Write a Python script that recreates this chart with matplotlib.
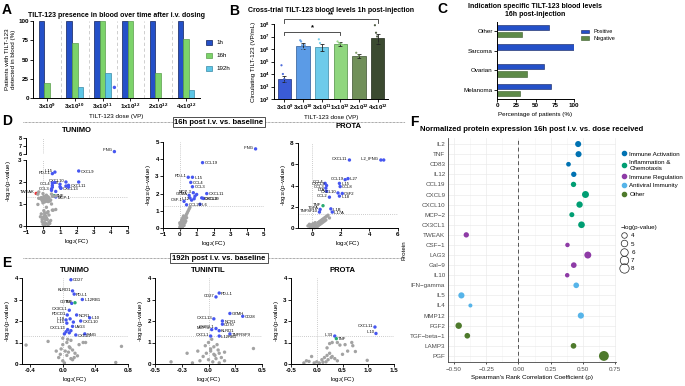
import numpy as np
import matplotlib.pyplot as plt
from matplotlib.patches import Patch
from matplotlib.lines import Line2D

plt.rcParams['font.family'] = ['Liberation Sans', 'DejaVu Sans']
plt.rcParams['mathtext.default'] = 'regular'
plt.rcParams['axes.linewidth'] = 0.7
plt.rcParams['xtick.major.width'] = 0.6
plt.rcParams['ytick.major.width'] = 0.6
plt.rcParams['xtick.major.size'] = 2
plt.rcParams['ytick.major.size'] = 2

# ---------------- data ----------------
doses = ['$3x10^{9}$', '$3x10^{10}$', '$3x10^{11}$', '$1x10^{12}$', '$2x10^{12}$', '$4x10^{12}$']

# A: % patients with virus in blood
a_1h = [100, 100, 100, 100, 100, 100]
a_16h = [20, 71, 100, 100, 33, 77]
a_192h = [0, 14, 33, 0, 0, 11]

# B: circulating virus 1h (VP/mL)
b_mean = [4e3, 1.8e6, 1.4e6, 2.5e6, 2.8e5, 7e6]
b_low = [2.2e3, 1.0e6, 7e5, 1.8e6, 2.0e5, 2.5e6]
b_high = [7e3, 3.0e6, 2.6e6, 3.5e6, 4.0e5, 1.5e7]
b_points = [[5e4, 1e4, 4e3, 2.5e3, 1.5e3],
            [5e6, 4e6, 2e6, 1e6, 3e5, 2e6, 5e5],
            [6e6, 3e6, 1e6, 3e5, 1e5, 1e6],
            [4e6, 3e6, 2.5e6, 2e6],
            [5e5, 3e5, 2e5],
            [8e7, 2e7, 1e7, 1e6, 3e6, 5e5]]

# C: indication specific 16h
c_cats = ['Melanoma', 'Ovarian', 'Sarcoma', 'Other']
c_pos = [70, 61, 100, 67]
c_neg = [30, 39, 0, 33]

# D: 16h volcano, TUNIMO
d1_lab = ['IFNG', 'CXCL9', 'PD-L1', 'IL15', 'CXCL10', 'IL10', 'CXCL11', 'CCL4', 'CXCL13', 'CCL3', 'MCP-1']
d1_x = [4.2, 2.1, 0.55, 0.7, 1.35, 1.0, 1.5, 0.55, 1.05, 0.5, 0.75]
d1_y = [6.3, 2.5, 2.38, 2.45, 2.0, 1.9, 1.85, 1.85, 1.72, 1.62, 1.32]
d1_green = ('TNF', 0.65, 1.38)
d1_red = ('TWEAK', -0.4, 1.48)
d1_gx = [-0.25, -0.3, 0.0, 0.5, 0.75, 0.55, 0.2, 0.1, -0.1, 0.3, 0.0, 0.05, 0.15, 0.25, 0.35, 0.45,
         -0.05, 0.1, 0.2, 0.3, 0.0, 0.15, 0.05, -0.15, 0.4, 0.25, 0.1, -0.05, 0.2, 0.35, 0.6, 0.1]
d1_gy = [1.26, 0.98, 1.05, 1.0, 0.75, 0.72, 0.85, 0.6, 0.55, 0.65, 0.4, 0.35, 0.45, 0.3, 0.5, 0.25,
         0.2, 0.15, 0.1, 0.05, 0.08, 0.28, 0.7, 0.42, 0.12, 0.6, 0.5, 0.3, 0.38, 0.18, 0.72, 0.02]

# D: 16h volcano, TUNINTIL
d2_lab = ['IFNG', 'CCL19', 'PD-L1', 'IL15', 'CCL4', 'CCL3', 'MCP-3', 'CXCL11', 'GZMA', 'CSF-1',
          'IL12', 'CXCL10', 'CXCL9', 'IL6', 'CCL23', '', '', '', '']
d2_x = [4.5, 1.35, 0.5, 0.75, 0.65, 0.75, 0.8, 1.6, 0.55, 0.25, 0.7, 1.3, 1.4, 1.2, 0.4, 0.9, 1.0, 0.6, 0.85]
d2_y = [4.6, 3.8, 2.95, 2.95, 2.65, 2.4, 2.05, 2.0, 1.9, 1.55, 1.62, 1.75, 1.72, 1.38, 1.35, 1.85, 1.95, 1.75, 1.7]
d2_gx = [0.0, 0.05, 0.1, 0.1, 0.15, 0.2, 0.2, 0.25, 0.3, 0.3, 0.35, 0.4, 0.45, 0.5, 0.55, 0.6,
         0.05, 0.15, 0.25, 0.35, 0.0, 0.1, 0.2, 0.3, 0.4, 0.02, 0.12, 0.22, 0.08, 0.18]
d2_gy = [0.05, 0.15, 0.25, 0.1, 0.35, 0.45, 0.2, 0.55, 0.6, 0.3, 0.7, 0.8, 0.9, 1.0, 1.1, 1.2,
         0.0, 0.05, 0.15, 0.4, 0.3, 0.4, 0.3, 0.5, 0.6, 0.2, 0.5, 0.7, 0.1, 0.6]

# D: 16h volcano, PROTA
d3_lab = ['IL2_IFNG', '', 'CXCL11', 'CCL19', 'IL27', 'CCL4', 'CXCL9', 'IL15', 'CCL8', 'CCL3', 'LTA',
          'CXCL10', 'CSF2', 'CCL2', 'IL18', 'TGFA', 'IL1B', 'IL17A', 'TNFSF10']
d3_x = [4.8, 5.0, 2.6, 2.3, 2.5, 0.9, 1.0, 1.9, 1.95, 0.95, 1.0, 1.8, 2.1, 1.2, 1.9, 0.55, 1.3, 1.4, 0.5]
d3_y = [6.4, 6.4, 6.4, 4.55, 4.65, 4.2, 4.0, 4.2, 3.9, 3.75, 3.45, 3.3, 3.25, 2.9, 3.0, 1.75, 1.8, 1.5, 1.5]
d3_green = ('TNF', 0.75, 2.1)
d3_gx = [-0.3, -0.2, -0.1, 0.0, 0.1, 0.2, 0.3, -0.15, 0.05, 0.25, 0.4, 0.5, 0.6, 0.7, 0.8, 0.9, 1.0,
         1.1, 0.45, 0.65, 0.85, 0.15, 0.35, 0.55, 0.75, 0.95, -0.05, 0.2, 1.2]
d3_gy = [0.2, 0.35, 0.15, 0.05, 0.25, 0.1, 0.2, 0.05, 0.4, 0.3, 0.5, 0.6, 0.7, 0.8, 0.9, 1.0, 1.1,
         1.2, 0.25, 0.45, 0.65, 0.02, 0.12, 0.35, 0.55, 0.75, 0.3, 0.5, 0.95]

# E: 192h volcano, TUNIMO
e1_lab = ['CD27', 'KLRD1', 'PD-L1', 'IL12RB1', 'CD70', 'CX3CL1', 'PDCD1', 'NCR1', 'IL10', 'IL18',
          'CXCL10', 'IL15', 'LAG3', 'CXCL13', 'IFNG', 'CXCL9', '', '', '', '', '', '']
e1_x = [0.1, 0.12, 0.14, 0.24, 0.11, 0.08, 0.055, 0.17, 0.33, 0.04, 0.22, 0.05, 0.12, 0.06, 0.27, 0.16,
        0.04, 0.08, 0.1, 0.02, 0.09, 0.13]
e1_y = [3.92, 3.4, 3.25, 3.0, 2.82, 2.5, 2.28, 2.28, 2.15, 2.05, 2.0, 1.9, 1.75, 1.6, 1.4, 1.35,
        1.5, 1.45, 1.55, 1.4, 2.1, 1.95]
e1_green = ('TNF', 0.15, 2.85)
e1_gx = [-0.45, -0.18, 0.72, 0.65, 0.28, 0.25, 0.18, 0.1, 0.05, 0.0, -0.02, 0.03, 0.08, 0.12, 0.15,
         0.2, -0.05, 0.0, 0.05, 0.1, 0.02, 0.07, -0.03, 0.12, 0.06, 0.0, 0.09, -0.08, 0.14]
e1_gy = [0.88, 1.05, 0.82, 0.07, 1.0, 1.0, 0.38, 1.1, 1.0, 0.9, 0.7, 0.6, 0.8, 0.65, 0.5,
         0.9, 0.3, 0.15, 0.4, 0.25, 0.05, 0.55, 0.45, 0.2, 1.15, 1.2, 0.75, 0.6, 0.3]

# E: 192h volcano, TUNINTIL
e2_lab = ['PD-L1', 'CD27', 'GZMH', 'CD28', 'CXCL13', 'NCR1', 'CD70', 'CX3CL1', 'MCP-3', 'KLRD1',
          'CXCL1', 'IL12RB1', 'TNFRSF9']
e2_x = [0.10, 0.07, 0.20, 0.32, 0.05, 0.13, 0.13, 0.07, 0.03, 0.10, 0.02, 0.10, 0.20]
e2_y = [3.3, 3.12, 2.35, 2.22, 2.1, 2.0, 1.85, 1.65, 1.6, 1.55, 1.3, 1.3, 1.4]
e2_gx = [-0.35, -0.2, -0.1, -0.15, 0.42, 0.15, 0.0, 0.03, 0.05, 0.08, -0.02, 0.02, 0.06, 0.1, 0.12,
         -0.05, 0.0, 0.04, 0.07, 0.1, -0.08, 0.15, 0.02, 0.05, 0.09, -0.03]
e2_gy = [0.1, 0.5, 0.6, 0.05, 0.72, 0.55, 1.0, 1.15, 0.8, 0.9, 0.5, 0.6, 0.4, 0.5, 0.3,
         0.35, 0.2, 0.1, 0.25, 0.05, 0.15, 0.15, 0.7, 0.45, 0.65, 0.85]

# E: 192h volcano, PROTA
e3_lab = ['CXCL11', 'IL10', 'IL33']
e3_x = [1.13, 1.15, 0.35]
e3_y = [1.72, 1.42, 1.3]
e3_green = ('TNF', 0.38, 1.18)
e3_gx = [0.98, 0.75, 0.7, 0.68, 0.55, 0.45, 0.4, 0.3, 0.25, 0.2, -0.2, -0.1, 0.0, -0.25, -0.05,
         0.1, 0.15, 0.2, 0.25, 0.3, 0.35, 0.4, 0.18, 0.22, 0.28, 0.05, 0.12, -0.15, 0.5, 0.6]
e3_gy = [0.17, 0.58, 0.85, 1.0, 0.9, 0.88, 1.0, 1.0, 0.95, 0.75, 0.15, 0.35, 0.1, 0.05, 0.05,
         0.2, 0.3, 0.4, 0.5, 0.35, 0.25, 0.15, 0.1, 0.2, 0.3, 0.05, 0.08, 0.12, 0.45, 0.6]

# F: correlation with dose
f_prot = ['IL2', 'TNF', 'CD83', 'IL12', 'CCL19', 'CXCL9', 'CXCL10', 'MCP\u22122', 'CX3CL1', 'TWEAK',
          'CSF\u22121', 'LAG3', 'Gal\u22129', 'IL10', 'IFN\u2212gamma', 'IL5', 'IL4', 'MMP12', 'FGF2',
          'TGF\u2212beta\u22121', 'LAMP3', 'PGF']
f_rho = [0.464, 0.467, 0.389, 0.43, 0.428, 0.521, 0.475, 0.415, 0.49, -0.405,
         0.381, 0.539, 0.43, 0.379, 0.449, -0.443, -0.373, 0.485, -0.464, -0.397, 0.428, 0.664]
f_logp = [4.5, 4.5, 3.2, 3.8, 3.8, 5.4, 4.8, 3.5, 5.1, 3.8,
          3.0, 5.4, 4.1, 3.0, 4.1, 4.6, 2.6, 4.6, 4.9, 4.1, 4.1, 8.6]
f_group = ['Immune Activation'] * 4 + ['Inflammation & Chemotaxis'] * 5 + ['Immune Regulation'] * 5 + \
          ['Antiviral Immunity'] * 4 + ['Other'] * 4
f_groups = ['Immune Activation', 'Inflammation & Chemotaxis', 'Immune Regulation', 'Antiviral Immunity', 'Other']
f_group_labels = ['Immune Activation', 'Inflammation &\nChemotaxis', 'Immune Regulation', 'Antiviral Immunity', 'Other']
f_colors = ['#0072B2', '#009E73', '#8E3BA6', '#56B4E9', '#4E7A2C']
f_size_levels = [4, 5, 6, 7, 8]

# ---------------- figure ----------------
W, H = 685, 386
fig = plt.figure(figsize=(6.85, 3.86), dpi=100)


def px_axes(x0, y0, x1, y1):
    return fig.add_axes([x0 / W, 1 - y1 / H, (x1 - x0) / W, (y1 - y0) / H])


def prism(ax, fs=4.5):
    ax.spines['top'].set_visible(False)
    ax.spines['right'].set_visible(False)
    ax.tick_params(labelsize=fs, pad=1)
    for t in ax.get_xticklabels() + ax.get_yticklabels():
        t.set_fontweight('bold')


def ftext(x, y, s, **kw):
    fig.text(x / W, 1 - y / H, s, **kw)


# panel letters
for lab, x, y in [('A', 2, 10), ('B', 229, 11), ('C', 437, 9), ('D', 2, 121), ('E', 2, 263), ('F', 410, 122)]:
    ftext(x, y, lab, fontsize=10, fontweight='bold', va='center')

# ---- A
ax = px_axes(33, 21, 200, 98)
x = np.arange(len(doses))
w = 0.2
for i, (vals, c, ec, lab) in enumerate(zip([a_1h, a_16h, a_192h],
                                          ['#2450C8', '#7CD36A', '#5DC6E6'],
                                          ['#10205a', '#5a9e4c', '#3a8aa6'],
                                          ['1h', '16h', '192h'])):
    ax.bar(x + (i - 1) * w, vals, w, color=c, edgecolor=ec, lw=0.5, label=lab)
for xs in x[:-1] + 0.5:
    ax.axvline(xs, color='#c8c8c8', ls=(0, (4, 3)), lw=0.6)
ax.set_xlim(-0.5, 5.5)
ax.set_ylim(0, 100)
ax.set_yticks([0, 25, 50, 75, 100])
ax.set_xticks(x)
ax.set_xticklabels(doses)
prism(ax)
ax.set_ylabel('Patients with TILT-123\ndetected in blood (%)', fontsize=4.5, labelpad=2)
ax.set_xlabel('TILT-123 dose (VP)', fontsize=4.5, labelpad=2)
ax.set_title('TILT-123 presence in blood over time after i.v. dosing', fontsize=5, fontweight='bold', pad=3)
ax.legend(loc='center left', bbox_to_anchor=(1.0, 0.55), frameon=False, fontsize=4.5,
          handlelength=1.0, handleheight=0.8, labelspacing=1.2)

# ---- B
ax = px_axes(274, 24, 388, 99)
b_colors = ['#3A5BD6', '#5B9BE6', '#6ECBEA', '#8FD67E', '#71905A', '#3B4A30']
b_edges = ['#1d2f7a', '#2d5a96', '#3a8aa6', '#4f8e44', '#3f5232', '#1e2618']
for i in range(6):
    ax.bar(i, b_mean[i] - 1e2, 0.7, bottom=1e2, color=b_colors[i], edgecolor=b_edges[i], lw=0.5)
    ax.errorbar(i, b_mean[i], yerr=[[b_mean[i] - b_low[i]], [b_high[i] - b_mean[i]]],
                color='#222', lw=0.6, capsize=1.5, capthick=0.6)
    pts = b_points[i]
    jit = np.linspace(-0.15, 0.15, len(pts))
    ax.scatter(i + jit, pts, s=2.5, color=b_colors[i], edgecolor='none', zorder=3, alpha=0.9)
ax.set_yscale('log')
ax.set_ylim(1e2, 1e8)
ax.set_xlim(-0.55, 5.55)
ax.set_yticks([10.0 ** k for k in range(2, 9)])
ax.minorticks_off()
ax.set_xticks(range(6))
ax.set_xticklabels(doses)
prism(ax, 4.3)
ax.set_ylabel('Circulating TILT-123 (VP/mL)', fontsize=4.5, labelpad=2)
ax.set_xlabel('TILT-123 dose (VP)', fontsize=4.5, labelpad=2)
ax.set_title('Cross-trial TILT-123 blood levels 1h post-injection', fontsize=5, fontweight='bold', pad=9)
# significance brackets
for (i0, i1, ytop, ydrop, star) in [(0, 3, 2.5e7, 1.3e7, '*'), (0, 5, 2.5e8, 1.1e8, '**')]:
    ax.plot([i0, i0, i1, i1], [ydrop, ytop, ytop, ydrop], color='#333', lw=0.6, clip_on=False)
    ax.text((i0 + i1) / 2, ytop * 1.15, star, ha='center', va='bottom', fontsize=5.5,
            fontweight='bold', clip_on=False)

# ---- C
ax = px_axes(497, 22, 574, 99)
yc = np.arange(len(c_cats))
ax.barh(yc + 0.18, c_pos, 0.27, color='#2450C8', edgecolor='#10205a', lw=0.4, label='Positive')
ax.barh(yc - 0.18, c_neg, 0.27, color='#5E8A48', edgecolor='#3a5a2a', lw=0.4, label='Negative')
ax.set_ylim(-0.46, 3.46)
ax.set_xlim(0, 100)
ax.set_xticks([0, 25, 50, 75, 100])
ax.set_yticks(yc)
ax.set_yticklabels(c_cats)
prism(ax, 4.5)
for t in ax.get_yticklabels():
    t.set_fontweight('normal')
ax.set_xlabel('Percentage of patients (%)', fontsize=4.5, labelpad=3)
ax.set_title('Indication specific TILT-123 blood levels\n16h post-injection', fontsize=5,
             fontweight='bold', pad=4, linespacing=1.2)
ax.legend(loc='upper left', bbox_to_anchor=(1.02, 0.97), frameon=False, fontsize=4,
          handlelength=1.6, handleheight=0.6, labelspacing=0.3)

# ---- separators
for ysep, txt in [(122, '16h post i.v. vs. baseline'), (258, '192h post i.v. vs. baseline')]:
    fig.add_artist(Line2D([23 / W, 405 / W], [1 - ysep / H] * 2, color='#555', lw=0.5, ls=(0, (1, 1))))
    ftext(219, ysep, txt, fontsize=5.5, fontweight='bold', ha='center', va='center',
          bbox=dict(boxstyle='square,pad=0.25', fc='white', ec='#333', lw=0.6))

BLUE = '#4656F0'
GREEN = '#2BAA72'
RED = '#E8373A'
GRAY = '#A3A3A3'


def volcano(ax, gx, gy, bx, by, blab, right=(), extra=()):
    ax.scatter(gx, gy, s=6, color=GRAY, edgecolor='none', zorder=2, clip_on=False)
    ax.scatter(bx, by, s=6, color=BLUE, edgecolor='none', zorder=3, clip_on=False)
    for name, xx, yy, col in extra:
        ax.scatter([xx], [yy], s=6, color=col, edgecolor='none', zorder=4)
        blab = list(blab) + [name]
        bx = list(bx) + [xx]
        by = list(by) + [yy]
    for lab, xx, yy in zip(blab, bx, by):
        if not lab:
            continue
        if lab in right:
            ax.annotate(lab, (xx, yy), xytext=(1.3, -0.5), textcoords='offset points', fontsize=3.0,
                        ha='left', va='center', zorder=5)
        else:
            ax.annotate(lab, (xx, yy), xytext=(-1.3, 0.8), textcoords='offset points', fontsize=3.0,
                        ha='right', va='center', zorder=5)
    ax.axhline(1.3, color='#bbbbbb', ls=(0, (1, 1.5)), lw=0.6, zorder=1)
    ax.axvline(0, color='#bbbbbb', ls=(0, (1, 1.5)), lw=0.6, zorder=1)


def vol_labels(ax, title=None):
    if title:
        ax.set_title(title, fontsize=5.5, fontweight='bold', pad=4)
    ax.set_xlabel('log$_2$(FC)', fontsize=4.5, labelpad=1.5)
    ax.set_ylabel('-log$_{10}$(p-value)', fontsize=4.5, labelpad=1.5)


# ---- D TUNIMO (broken y axis)
axb = px_axes(26, 160, 128, 226)
axt = px_axes(26, 138, 128, 154)
for a in (axb, axt):
    volcano(a, d1_gx, d1_gy, d1_x, d1_y, d1_lab, right=('CXCL11', 'CXCL13', 'MCP-1', 'TNF', 'CXCL9'),
            extra=[d1_green + (GREEN,), d1_red + (RED,)])
    a.set_xlim(-1, 5)
axb.set_ylim(0, 3)
axb.set_yticks([0, 1, 2, 3])
axt.set_ylim(6, 8)
axt.set_yticks([6, 7, 8])
axb.set_xticks(range(-1, 6))
axt.set_xticks([])
axt.spines['bottom'].set_visible(False)
prism(axb)
prism(axt)
axt.tick_params(labelsize=4)
for t in axt.get_yticklabels():
    t.set_fontweight('bold')
axt.set_title('TUNIMO', fontsize=5.5, fontweight='bold', pad=4)
axb.set_xlabel('log$_2$(FC)', fontsize=4.5, labelpad=1.5)
axb.set_ylabel('-log$_{10}$(p-value)', fontsize=4.5, labelpad=1.5)
axb.yaxis.set_label_coords(-0.13, 0.68)

# ---- D TUNINTIL
ax = px_axes(163, 142, 264, 228)
volcano(ax, d2_gx, d2_gy, d2_x, d2_y, d2_lab, right=('CXCL11', 'CXCL10', 'CXCL9', 'IL6', 'CCL23', 'CCL4', 'CCL3', 'IL15', 'CCL19'))
ax.set_xlim(-1, 5)
ax.set_ylim(0, 5)
ax.set_xticks(range(-1, 6))
ax.set_yticks(range(6))
prism(ax)
ax.set_title('TUNINTIL', fontsize=5.5, fontweight='bold', pad=13)
vol_labels(ax)

# ---- D PROTA
ax = px_axes(298, 143, 398, 228)
volcano(ax, d3_gx, d3_gy, d3_x, d3_y, d3_lab,
        right=('IL27', 'CCL8', 'CSF2', 'IL18', 'IL1B', 'IL17A', 'IL15'), extra=[d3_green + (GREEN,)])
ax.set_xlim(-1, 6)
ax.set_ylim(0, 8)
ax.set_xticks([0, 2, 4, 6])
ax.set_yticks([0, 2, 4, 6, 8])
prism(ax)
ax.set_title('PROTA', fontsize=5.5, fontweight='bold', pad=11)
vol_labels(ax)

# ---- E TUNIMO
ax = px_axes(22, 278, 128, 364)
volcano(ax, e1_gx, e1_gy, e1_x, e1_y, e1_lab,
        right=('PD-L1', 'IL12RB1', 'NCR1', 'IL10', 'CXCL10', 'LAG3', 'IFNG', 'CXCL9', 'CD27'),
        extra=[e1_green + (GREEN,)])
ax.set_xlim(-0.5, 0.8)
ax.set_ylim(0, 4)
ax.set_xticks([-0.4, 0.0, 0.4, 0.8])
ax.set_xticklabels(['-0.4', '0.0', '0.4', '0.8'])
ax.set_yticks(range(5))
prism(ax)
ax.set_title('TUNIMO', fontsize=5.5, fontweight='bold', pad=4)
vol_labels(ax)

# ---- E TUNINTIL
ax = px_axes(155, 278, 262, 364)
volcano(ax, e2_gx, e2_gy, e2_x, e2_y, e2_lab,
        right=('PD-L1', 'CD28', 'NCR1', 'CD70', 'KLRD1', 'IL12RB1', 'TNFRSF9', 'GZMH'))
ax.set_xlim(-0.5, 0.5)
ax.set_ylim(0, 4)
ax.set_xticks([-0.5, -0.25, 0.0, 0.25, 0.5])
ax.set_xticklabels(['-0.5', '-0.3', '0.0', '0.3', '0.5'])
ax.set_yticks(range(5))
prism(ax)
ax.set_title('TUNINTIL', fontsize=5.5, fontweight='bold', pad=4)
vol_labels(ax)

# ---- E PROTA
ax = px_axes(291, 278, 394, 364)
volcano(ax, e3_gx, e3_gy, e3_x, e3_y, e3_lab, right=('TNF',), extra=[e3_green + (GREEN,)])
ax.set_xlim(-0.5, 1.5)
ax.set_ylim(0, 4)
ax.set_xticks([-0.5, 0.0, 0.5, 1.0, 1.5])
ax.set_xticklabels(['-0.5', '0.0', '0.5', '1.0', '1.5'])
ax.set_yticks(range(5))
prism(ax)
ax.set_title('PROTA', fontsize=5.5, fontweight='bold', pad=4)
vol_labels(ax)

# ---- F
ax = px_axes(448, 138, 616, 362)
yf = np.arange(len(f_prot))[::-1]
cmap = dict(zip(f_groups, f_colors))


def fsize(v):
    return 2.0 * np.asarray(v) ** 1.5


ax.scatter(f_rho, yf, s=fsize(f_logp), c=[cmap[g] for g in f_group], edgecolor='none', zorder=3)
ax.axvline(0, color='#555', ls=(0, (4, 3)), lw=0.7, zorder=2)
ax.set_xlim(-0.547, 0.758)
ax.set_ylim(-0.6, len(f_prot) - 0.4)
ax.set_yticks(yf)
ax.set_yticklabels(f_prot)
ax.set_xticks([-0.5, -0.25, 0, 0.25, 0.5, 0.75])
ax.set_xticklabels(['\u22120.50', '\u22120.25', '0.00', '0.25', '0.50', '0.75'])
ax.set_xticks([-0.375, -0.125, 0.125, 0.375, 0.625], minor=True)
ax.grid(True, which='major', color='#ebebeb', lw=0.5, zorder=0)
ax.grid(True, which='minor', axis='x', color='#f4f4f4', lw=0.4, zorder=0)
ax.tick_params(which='both', length=0, labelsize=4.5, labelcolor='#4d4d4d', pad=2)
ax.tick_params(axis='x', which='major', length=1.5, color='#333')
for s in ['top', 'right']:
    ax.spines[s].set_visible(False)
for s in ['left', 'bottom']:
    ax.spines[s].set_color('#444')
    ax.spines[s].set_linewidth(0.6)
ax.set_axisbelow(True)
ax.set_ylabel('Protein', fontsize=4.5, labelpad=2)
ax.set_xlabel("Spearman's Rank Correlation Coefficient (\u03c1)", fontsize=4.5, labelpad=2)
ax.set_title('Normalized protein expression 16h post i.v. vs. dose received', fontsize=5.5,
             fontweight='bold', pad=5)

hcat = [Line2D([], [], marker='o', ls='none', color=c, markersize=3) for c in f_colors]
leg1 = ax.legend(hcat, f_group_labels, loc='upper left', bbox_to_anchor=(618 / W, 1 - 148 / H),
                 bbox_transform=fig.transFigure, frameon=False, fontsize=4.5, handlelength=0.8,
                 handletextpad=0.5, labelspacing=0.55, borderpad=0)
ax.add_artist(leg1)
hsz = [Line2D([], [], marker='o', ls='none', mfc='none', mec='#222', mew=0.5,
              markersize=np.sqrt(fsize(v))) for v in f_size_levels]
leg2 = ax.legend(hsz, [str(v) for v in f_size_levels], loc='upper left',
                 bbox_to_anchor=(618 / W, 1 - 222 / H), bbox_transform=fig.transFigure,
                 frameon=False, fontsize=4.5, handlelength=0.8, handletextpad=0.8,
                 labelspacing=0.45, borderpad=0, title='\u2212log(p-value)', title_fontsize=4.5)
leg2._legend_box.align = 'left'

fig.savefig('out.png', dpi=100)
